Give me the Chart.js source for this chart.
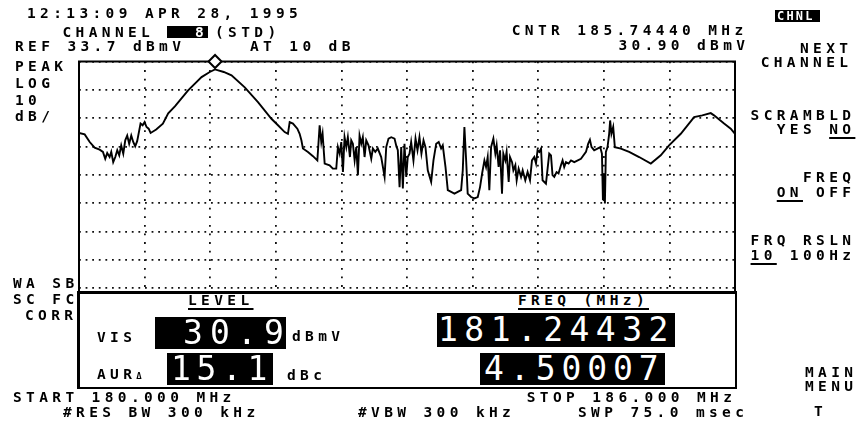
<!DOCTYPE html>
<html><head><meta charset="utf-8">
<script src="https://cdn.jsdelivr.net/npm/chart.js@4.4.1/dist/chart.umd.min.js"></script>
<style>
html,body{margin:0;padding:0;background:#fff;}
#wrap{position:relative;width:862px;height:429px;overflow:hidden;background:#fff;}
#cw{position:absolute;left:0;top:0;width:862px;height:429px;}
.t{position:absolute;font-family:"DejaVu Sans Mono",monospace;font-weight:bold;font-size:14.5px;line-height:14.5px;letter-spacing:4.37px;white-space:pre;color:#000;}
.u{text-decoration:underline;text-decoration-thickness:1.5px;text-underline-offset:3px;}
.inv{position:absolute;background:#000;}
.big{position:absolute;font-family:"DejaVu Sans Mono",monospace;font-weight:normal;font-size:33px;color:#fff;text-align:center;width:26px;}
#panel{position:absolute;left:77px;top:291px;width:660px;height:98px;box-sizing:border-box;border:2px solid #000;border-top:3px solid #000;border-left:3px solid #000;background:#fff;}
</style></head>
<body><div id="wrap"><div id="cw"><canvas id="c"></canvas></div></div>
<script>
// ---- data (MHz, dBmV) ----
const freqMHz = [180.000,180.052,180.098,180.143,180.189,180.219,180.240,180.258,180.280,180.295,180.313,180.332,180.350,180.368,180.386,180.405,180.423,180.441,180.459,180.478,180.496,180.514,180.532,180.551,180.563,180.582,180.600,180.618,180.637,180.655,180.706,180.767,180.816,180.877,180.998,181.121,181.196,181.244,181.324,181.395,181.516,181.637,181.760,181.820,181.881,181.911,181.927,181.957,181.997,182.018,182.034,182.048,182.094,182.140,182.180,182.201,182.216,182.228,182.247,182.292,182.322,182.353,182.368,182.384,182.399,182.414,182.429,182.445,182.459,182.478,182.490,182.505,182.521,182.536,182.551,182.566,182.582,182.596,182.612,182.627,182.648,182.673,182.688,182.710,182.733,182.764,182.795,182.810,182.831,182.856,182.886,182.901,182.916,182.932,182.947,182.962,182.977,182.993,183.007,183.023,183.038,183.059,183.078,183.096,183.114,183.132,183.151,183.169,183.190,183.221,183.242,183.267,183.290,183.312,183.327,183.352,183.373,183.404,183.434,183.464,183.495,183.510,183.525,183.541,183.555,183.586,183.616,183.647,183.668,183.687,183.708,183.723,183.738,183.753,183.769,183.790,183.808,183.820,183.838,183.851,183.869,183.881,183.899,183.911,183.930,183.942,183.961,183.973,183.991,184.003,184.021,184.043,184.058,184.082,184.103,184.125,184.143,184.164,184.180,184.194,184.210,184.226,184.240,184.256,184.271,184.286,184.301,184.317,184.331,184.347,184.368,184.386,184.408,184.423,184.438,184.454,184.478,184.500,184.530,184.591,184.637,184.657,184.673,184.688,184.712,184.742,184.767,184.783,184.792,184.801,184.810,184.819,184.834,184.849,184.858,184.870,184.886,184.901,184.956,185.032,185.123,185.230,185.321,185.397,185.504,185.626,185.701,185.778,185.808,185.900,185.961,186.000];
const levelDbmv = [8.5,8.0,5.3,3.3,2.6,1.8,-0.6,1.4,0.0,1.8,
-1.8,0.0,2.4,0.6,4.1,1.2,5.9,7.6,4.7,7.6,
5.3,3.8,5.6,9.4,11.8,11.2,12.3,10.6,10.0,8.5,
9.7,11.8,15.4,17.9,23.5,28.2,30.0,30.9,30.0,28.8,
24.6,19.4,13.5,11.2,8.8,8.2,12.3,11.8,10.0,8.2,
5.9,3.0,1.8,0.3,-1.2,11.2,5.3,8.2,-2.3,-2.9,
-4.1,-4.1,3.5,1.2,5.3,-5.3,7.0,3.5,7.0,0.0,
5.9,4.7,-1.2,3.5,-6.4,7.6,4.7,7.0,0.0,5.9,
4.1,-0.6,3.0,1.8,3.0,0.0,-7.0,3.5,6.5,7.0,
6.5,4.1,2.4,-10.6,3.5,-11.1,4.7,-7.0,0.0,1.2,
5.3,-1.2,6.5,2.4,7.0,1.2,5.9,3.5,-4.7,-8.8,
-1.2,4.7,5.3,3.0,4.1,-3.5,-11.7,-12.3,-12.9,-12.3,
-11.7,-4.7,10.6,-1.2,-12.9,-14.1,-14.6,-14.1,-10.6,-5.8,
-1.2,-3.5,0.0,-11.7,3.5,6.5,1.2,4.1,-3.5,2.4,
-12.9,1.2,-1.2,1.8,-8.8,0.0,-1.8,-4.7,-2.9,-8.2,
-4.1,-7.0,-4.7,-8.2,-5.3,-8.2,-1.2,0.0,-2.3,2.4,
1.8,3.0,-8.2,-8.8,-9.4,-4.1,1.2,0.6,-6.4,-7.0,
-5.3,-5.8,-2.9,-1.2,-3.5,-1.8,-2.3,-1.2,-1.8,-0.6,
1.8,4.7,6.1,3.5,2.4,3.0,3.5,1.2,-15.2,-5.8,
-16.4,1.8,3.5,8.2,12.9,8.2,10.6,3.5,3.0,1.8,
0.0,-2.3,0.6,4.1,8.2,14.1,14.7,15.5,14.7,11.8,10.0,8.2];
const markerFreqMHz = [181.24432];
const markerLevelDbmv = [33.7];
const xGridMHz = [180,180.6,181.2,181.8,182.4,183,183.6,184.2,184.8,185.4,186];
const yGridDbmv = [33.7,23.7,13.7,3.7,-6.3,-16.3,-26.3,-36.3,-46.3,-56.3,-66.3];
const visLevel = "30.9", auralDelta = "15.1", visFreq = "181.24432", auralOffset = "4.50007";

// ---- text layout ----
const wrap = document.getElementById('wrap');
const FS = 14.5, LS = 4.37, PITCH = FS*0.602 + LS;
function txt(s, x, cy, extra){
  const d = document.createElement('div');
  d.className = 't' + (extra && extra.cls ? ' ' + extra.cls : '');
  d.style.left = x + 'px'; d.style.top = (cy - FS/2 + 0.28) + 'px';
  if (extra && extra.color) d.style.color = extra.color;
  if (extra && extra.size){ d.style.fontSize = extra.size+'px'; d.style.lineHeight = extra.size+'px'; d.style.top = (cy - extra.size/2 + 0.25)+'px'; d.style.letterSpacing = extra.ls+'px'; }
  if (extra && extra.html) d.innerHTML = s; else d.textContent = s;
  wrap.appendChild(d); return d;
}
function box(x, y, w, h){
  const b = document.createElement('div'); b.className = 'inv';
  b.style.left = x+'px'; b.style.top = y+'px'; b.style.width = w+'px'; b.style.height = h+'px';
  wrap.appendChild(b); return b;
}
function readout(s, bx, by, bw, bh, c0, pitch){
  box(bx, by, bw, bh);
  [...s].forEach((ch, i) => {
    const d = document.createElement('div'); d.className = 'big';
    d.textContent = ch;
    d.style.left = (c0 + i*pitch - 13) + 'px';
    d.style.top = by + 'px'; d.style.height = bh + 'px'; d.style.lineHeight = bh + 'px';
    wrap.appendChild(d);
  });
}
function rt(s, right, cy, extra){ const n = [...s.replace(/<[^>]*>/g,'')].length; return txt(s, right - (n*PITCH - LS), cy, extra); }

const topTexts = () => {
  txt('12:13:09 APR 28, 1995', 27, 12.5);
  txt('CHANNEL', 62.5, 31.5);
  box(167, 26, 41, 12);
  txt('8', 195, 31.5, {color:'#fff'});
  txt('(STD)', 215, 31.5);
  txt('REF 33.7 dBmV', 15, 45.5);
  txt('AT 10 dB', 250, 45.5);
  txt('CNTR 185.74440 MHz', 511.7, 30);
  rt('30.90 dBmV', 745, 45);
  box(775, 10, 45, 12);
  txt('CHNL', 777, 16, {color:'#fff', size:12, ls:2.2});
  rt('NEXT', 848, 47.5);
  rt('CHANNEL', 848, 62);
  rt('SCRAMBLD', 851, 115);
  rt('YES <span class="u">NO</span>', 851, 129, {html:true});
  rt('FREQ', 851, 177);
  rt('<span class="u">ON</span> OFF', 851, 192, {html:true});
  rt('FRQ RSLN', 851, 240);
  rt('<span class="u">10</span> 100Hz', 851, 255, {html:true});
  rt('MAIN', 853, 371.5);
  rt('MENU', 853, 386);
  txt('T', 814, 411);
  txt('PEAK', 15, 66); txt('LOG', 15, 83); txt('10', 15, 100); txt('dB/', 15, 116);
  txt('WA SB', 13, 283); txt('SC FC', 13, 298.5); rt('CORR', 73, 315);
  txt('START 180.000 MHz', 13, 397);
  txt('#RES BW 300 kHz', 63, 411.5);
  txt('#VBW 300 kHz', 358, 411.5);
  txt('STOP 186.000 MHz', 526.7, 397);
  txt('SWP 75.0 msec', 578, 411.5);
};

// ---- chart ----
const frame = {
  id:'frame',
  beforeDatasetsDraw(chart){
    const a = chart.chartArea, c = chart.ctx;
    c.save(); c.strokeStyle = '#000'; c.lineWidth = 2;
    c.strokeRect(a.left, a.top, a.right - a.left, a.bottom - a.top);
    c.restore();
  }
};
const trace = freqMHz.map((f, i) => ({x: f, y: levelDbmv[i]}));
const marker = markerFreqMHz.map((f, i) => ({x: f, y: markerLevelDbmv[i]}));
new Chart(document.getElementById('c'), {
  type: 'line',
  data: {datasets: [
    {data: trace, borderColor: '#000', borderWidth: 1.9, pointRadius: 0, tension: 0, fill: false},
    {data: marker, showLine: false, pointStyle: 'rectRot', pointRadius: 6.5, pointBackgroundColor: '#fff', pointBorderColor: '#000', pointBorderWidth: 2, clip: false}
  ]},
  options: {
    responsive: true, maintainAspectRatio: false, animation: false, events: [],
    layout: {padding: {left: 79, top: 61.5, right: 127, bottom: 84}},
    plugins: {legend: {display: false}, tooltip: {enabled: false}},
    scales: {
      x: {type: 'linear', min: 180, max: 186,
          afterBuildTicks: s => { s.ticks = xGridMHz.map(v => ({value: v})); },
          afterFit: s => { s.height = 0; },
          ticks: {display: false}, grid: {color: '#111', lineWidth: 1.8, drawTicks: false},
          border: {display: false, dash: [1.8, 6.8]}},
      y: {type: 'linear', min: -66.3, max: 33.7,
          afterBuildTicks: s => { s.ticks = yGridDbmv.map(v => ({value: v})); },
          afterFit: s => { s.width = 0; },
          ticks: {display: false}, grid: {color: '#111', lineWidth: 1.8, drawTicks: false},
          border: {display: false, dash: [1.8, 4.8]}}
    }
  },
  plugins: [frame]
});

// ---- overlay panel ----
const panel = document.createElement('div'); panel.id = 'panel'; wrap.appendChild(panel);
topTexts();
txt('LEVEL', 188, 300, {cls:'u'});
txt('VIS', 97, 336.5);
readout(visLevel, 155, 317, 131, 32, 193, 27);
txt('dBmV', 292, 336);
txt('AUR<span style="font-size:9px;letter-spacing:0">Δ</span>', 97, 374, {html:true});
readout(auralDelta, 167, 353, 106, 32, 181, 25.5);
txt('dBc', 287, 375);
txt('FREQ (MHz)', 518, 300, {cls:'u'});
readout(visFreq, 437, 313, 238, 34, 448, 26.3);
readout(auralOffset, 480, 353, 185, 32, 494, 25.8);
</script></body></html>
